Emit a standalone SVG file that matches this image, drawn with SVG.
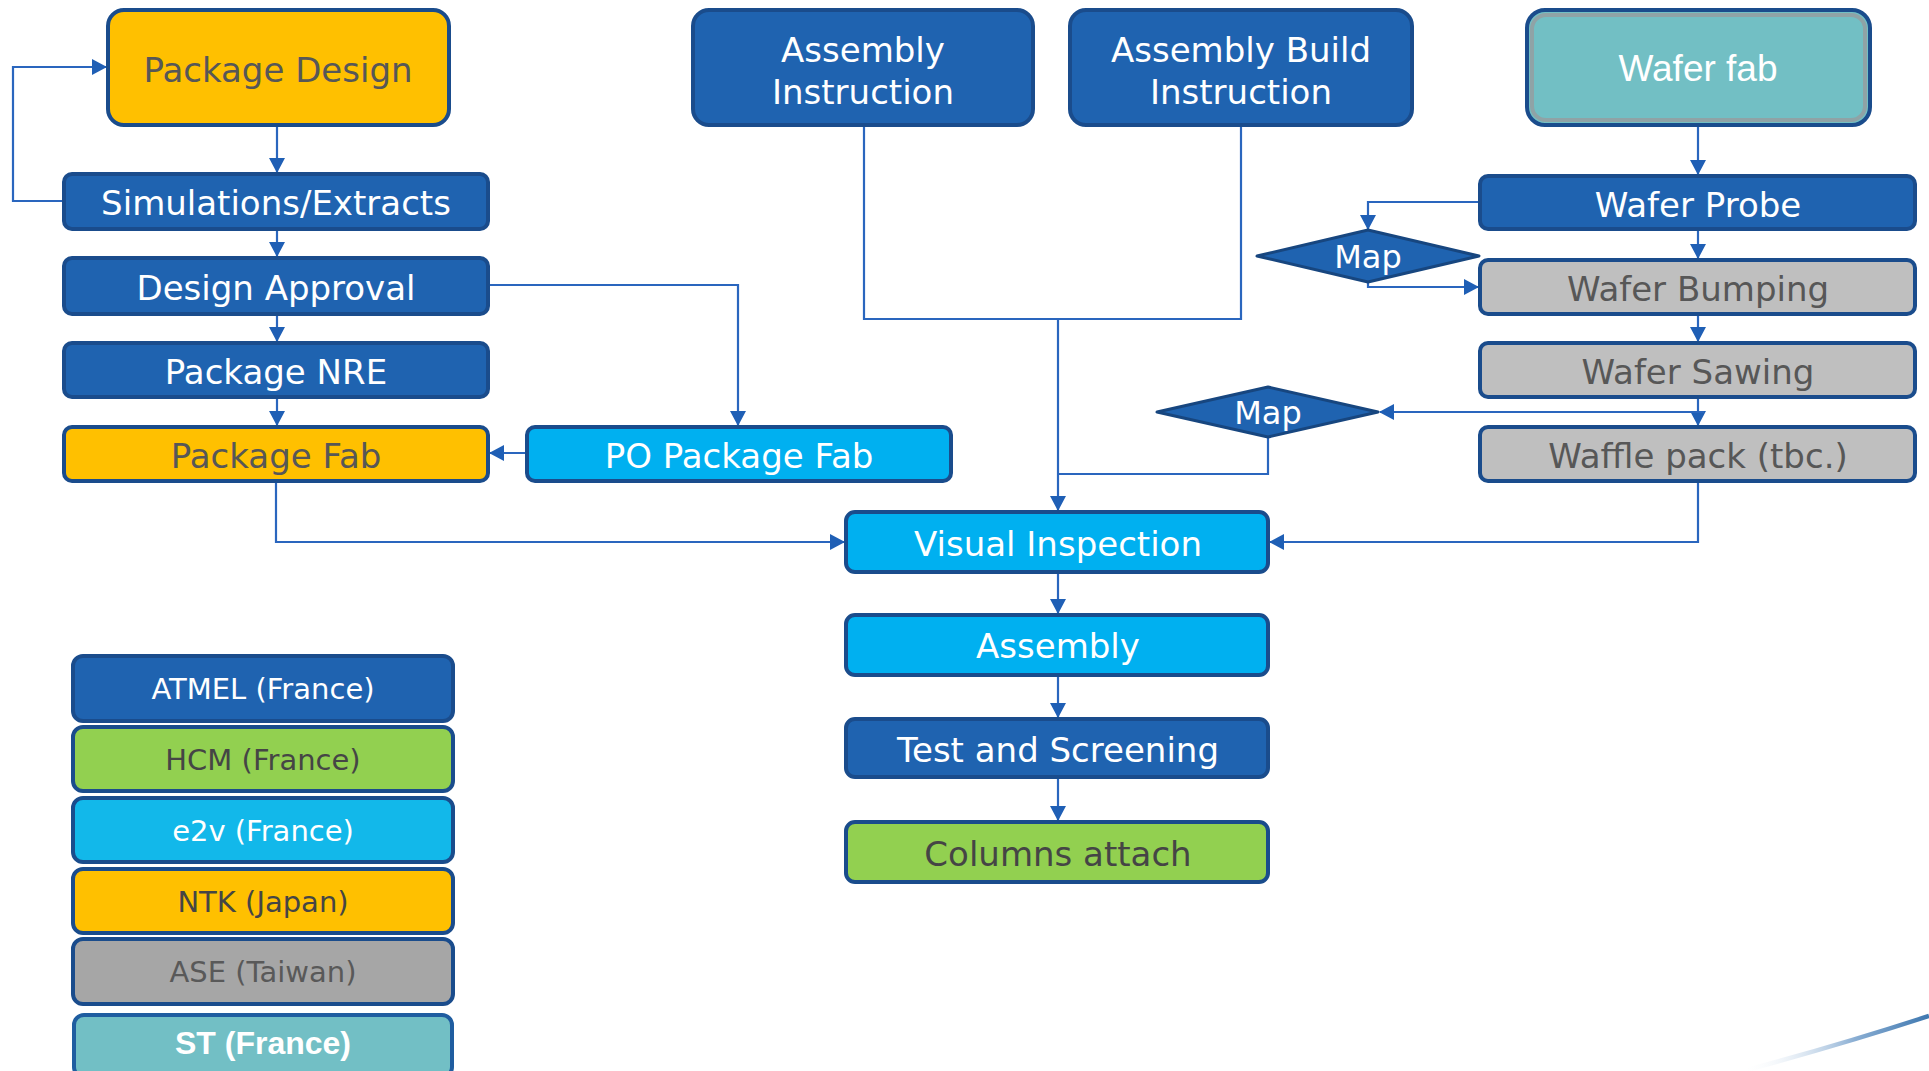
<svg xmlns="http://www.w3.org/2000/svg" width="1929" height="1071" viewBox="0 0 1929 1071">
<defs>
<style>
.bx{stroke:#1A4C8C;stroke-width:4}
.dk{fill:#1F63B0}
.yl{fill:#FFC000}
.cy{fill:#00B0F0}
.gr{fill:#92D050}
.gy{fill:#BFBFBF}
.t{font-family:"DejaVu Sans",Verdana,sans-serif;font-size:34px;text-anchor:middle}
.lg{font-family:"DejaVu Sans",Verdana,sans-serif;font-size:29px;text-anchor:middle}
.w{fill:#FFFFFF}
.g{fill:#575757}
.c{fill:none;stroke:#2A66BE;stroke-width:2.2}
.ca{fill:none;stroke:#2A66BE;stroke-width:2.2;marker-end:url(#arr)}
</style>
<marker id="arr" markerWidth="15" markerHeight="16" refX="14" refY="8" orient="auto" markerUnits="userSpaceOnUse">
<path d="M0,0 L15,8 L0,16 z" fill="#1F5FB5"/>
</marker>
<linearGradient id="sw" x1="0" y1="0" x2="1" y2="0">
<stop offset="0" stop-color="#FFFFFF" stop-opacity="0"/>
<stop offset="0.6" stop-color="#8AAED3"/>
<stop offset="1" stop-color="#3F78B0"/>
</linearGradient>
</defs>

<g id="connectors">
<path class="ca" d="M277,127 L277,172"/>
<path class="ca" d="M64,201 L13,201 L13,67 L106,67"/>
<path class="ca" d="M277,229 L277,256"/>
<path class="ca" d="M277,314 L277,341"/>
<path class="ca" d="M277,397 L277,425"/>
<path class="ca" d="M488,285 L738,285 L738,425"/>
<path class="ca" d="M527,453 L490,453"/>
<path class="ca" d="M276,481 L276,542 L844,542"/>
<path class="c" d="M864,125 L864,319 L1241,319 L1241,125"/>
<path class="ca" d="M1058,319 L1058,510"/>
<path class="c" d="M1268,437 L1268,474 L1058,474"/>
<path class="ca" d="M1698,125 L1698,174"/>
<path class="ca" d="M1480,202 L1368,202 L1368,229"/>
<path class="ca" d="M1368,282 L1368,287 L1478,287"/>
<path class="ca" d="M1698,229 L1698,258"/>
<path class="ca" d="M1698,314 L1698,341"/>
<path class="ca" d="M1698,397 L1698,425"/>
<path class="ca" d="M1704,412 L1380,412"/>
<path class="ca" d="M1698,481 L1698,542 L1270,542"/>
<path class="ca" d="M1058,572 L1058,613"/>
<path class="ca" d="M1058,675 L1058,717"/>
<path class="ca" d="M1058,777 L1058,820"/>
</g>

<g id="package-design"><rect class="bx yl" x="108" y="10" width="341" height="115" rx="16"/><text class="t g" x="278" y="82">Package Design</text></g>
<g id="simulations"><rect class="bx dk" x="64" y="174" width="424" height="55" rx="8"/><text class="t w" x="276" y="215">Simulations/Extracts</text></g>
<g id="design-approval"><rect class="bx dk" x="64" y="258" width="424" height="56" rx="8"/><text class="t w" x="276" y="300">Design Approval</text></g>
<g id="package-nre"><rect class="bx dk" x="64" y="343" width="424" height="54" rx="8"/><text class="t w" x="276" y="384">Package NRE</text></g>
<g id="package-fab"><rect class="bx yl" x="64" y="427" width="424" height="54" rx="8"/><text class="t g" x="276" y="468">Package Fab</text></g>
<g id="po-package-fab"><rect class="bx cy" x="527" y="427" width="424" height="54" rx="8"/><text class="t w" x="739" y="468">PO Package Fab</text></g>
<g id="assembly-instruction"><rect class="bx dk" x="693" y="10" width="340" height="115" rx="16"/><text class="t w" x="863" y="62">Assembly</text><text class="t w" x="863" y="104">Instruction</text></g>
<g id="assembly-build-instruction"><rect class="bx dk" x="1070" y="10" width="342" height="115" rx="16"/><text class="t w" x="1241" y="62">Assembly Build</text><text class="t w" x="1241" y="104">Instruction</text></g>
<g id="wafer-fab"><rect x="1527" y="10" width="343" height="115" rx="18" fill="#72BFC4" stroke="#1A4C8C" stroke-width="4"/><rect x="1532" y="15" width="333" height="105" rx="14" fill="none" stroke="#8FA3A6" stroke-width="4"/><text x="1698" y="81" font-family="Liberation Sans,Arial,sans-serif" font-size="37" text-anchor="middle" fill="#FFFFFF">Wafer fab</text></g>
<g id="wafer-probe"><rect class="bx dk" x="1480" y="176" width="435" height="53" rx="8"/><text class="t w" x="1698" y="217">Wafer Probe</text></g>
<g id="map-1"><polygon points="1257,256 1368,230 1479,256 1368,282" fill="#1F63B0" stroke="#17467F" stroke-width="3" stroke-linejoin="round"/><text class="t w" x="1368" y="268" style="font-size:32px">Map</text></g>
<g id="wafer-bumping"><rect class="bx gy" x="1480" y="260" width="435" height="54" rx="8"/><text class="t g" x="1698" y="301">Wafer Bumping</text></g>
<g id="wafer-sawing"><rect class="bx gy" x="1480" y="343" width="435" height="54" rx="8"/><text class="t g" x="1698" y="384">Wafer Sawing</text></g>
<g id="map-2"><polygon points="1157,412 1268,387 1378,412 1268,437" fill="#1F63B0" stroke="#17467F" stroke-width="3" stroke-linejoin="round"/><text class="t w" x="1268" y="424" style="font-size:32px">Map</text></g>
<g id="waffle-pack"><rect class="bx gy" x="1480" y="427" width="435" height="54" rx="8"/><text class="t g" x="1698" y="468">Waffle pack (tbc.)</text></g>
<g id="visual-inspection"><rect class="bx cy" x="846" y="512" width="422" height="60" rx="9"/><text class="t w" x="1058" y="556">Visual Inspection</text></g>
<g id="assembly"><rect class="bx cy" x="846" y="615" width="422" height="60" rx="9"/><text class="t w" x="1058" y="658">Assembly</text></g>
<g id="test-screening"><rect class="bx dk" x="846" y="719" width="422" height="58" rx="9"/><text class="t w" x="1058" y="762">Test and Screening</text></g>
<g id="columns-attach"><rect class="bx gr" x="846" y="822" width="422" height="60" rx="9"/><text class="t" x="1058" y="866" fill="#454545">Columns attach</text></g>

<g id="legend-atmel"><rect class="bx dk" x="73" y="656" width="380" height="65" rx="10"/><text class="lg w" x="263" y="699">ATMEL (France)</text></g>
<g id="legend-hcm"><rect class="bx gr" x="73" y="727" width="380" height="64" rx="10"/><text class="lg" x="263" y="770" fill="#454545">HCM (France)</text></g>
<g id="legend-e2v"><rect class="bx" x="73" y="798" width="380" height="64" rx="10" fill="#12B8EA"/><text class="lg w" x="263" y="841">e2v (France)</text></g>
<g id="legend-ntk"><rect class="bx yl" x="73" y="869" width="380" height="64" rx="10"/><text class="lg" x="263" y="912" fill="#454545">NTK (Japan)</text></g>
<g id="legend-ase"><rect class="bx" x="73" y="939" width="380" height="65" rx="10" fill="#A6A6A6"/><text class="lg" x="263" y="982" fill="#595959">ASE (Taiwan)</text></g>
<g id="legend-st"><rect x="74" y="1015" width="378" height="62" rx="10" fill="#72BFC5" stroke="#1F5DA0" stroke-width="4"/><text x="263" y="1054" font-family="Liberation Sans,Arial,sans-serif" font-size="32" font-weight="bold" text-anchor="middle" fill="#FFFFFF">ST (France)</text></g>

<path d="M1743,1071 Q1840,1045 1929,1016" fill="none" stroke="url(#sw)" stroke-width="4.5"/>
</svg>
